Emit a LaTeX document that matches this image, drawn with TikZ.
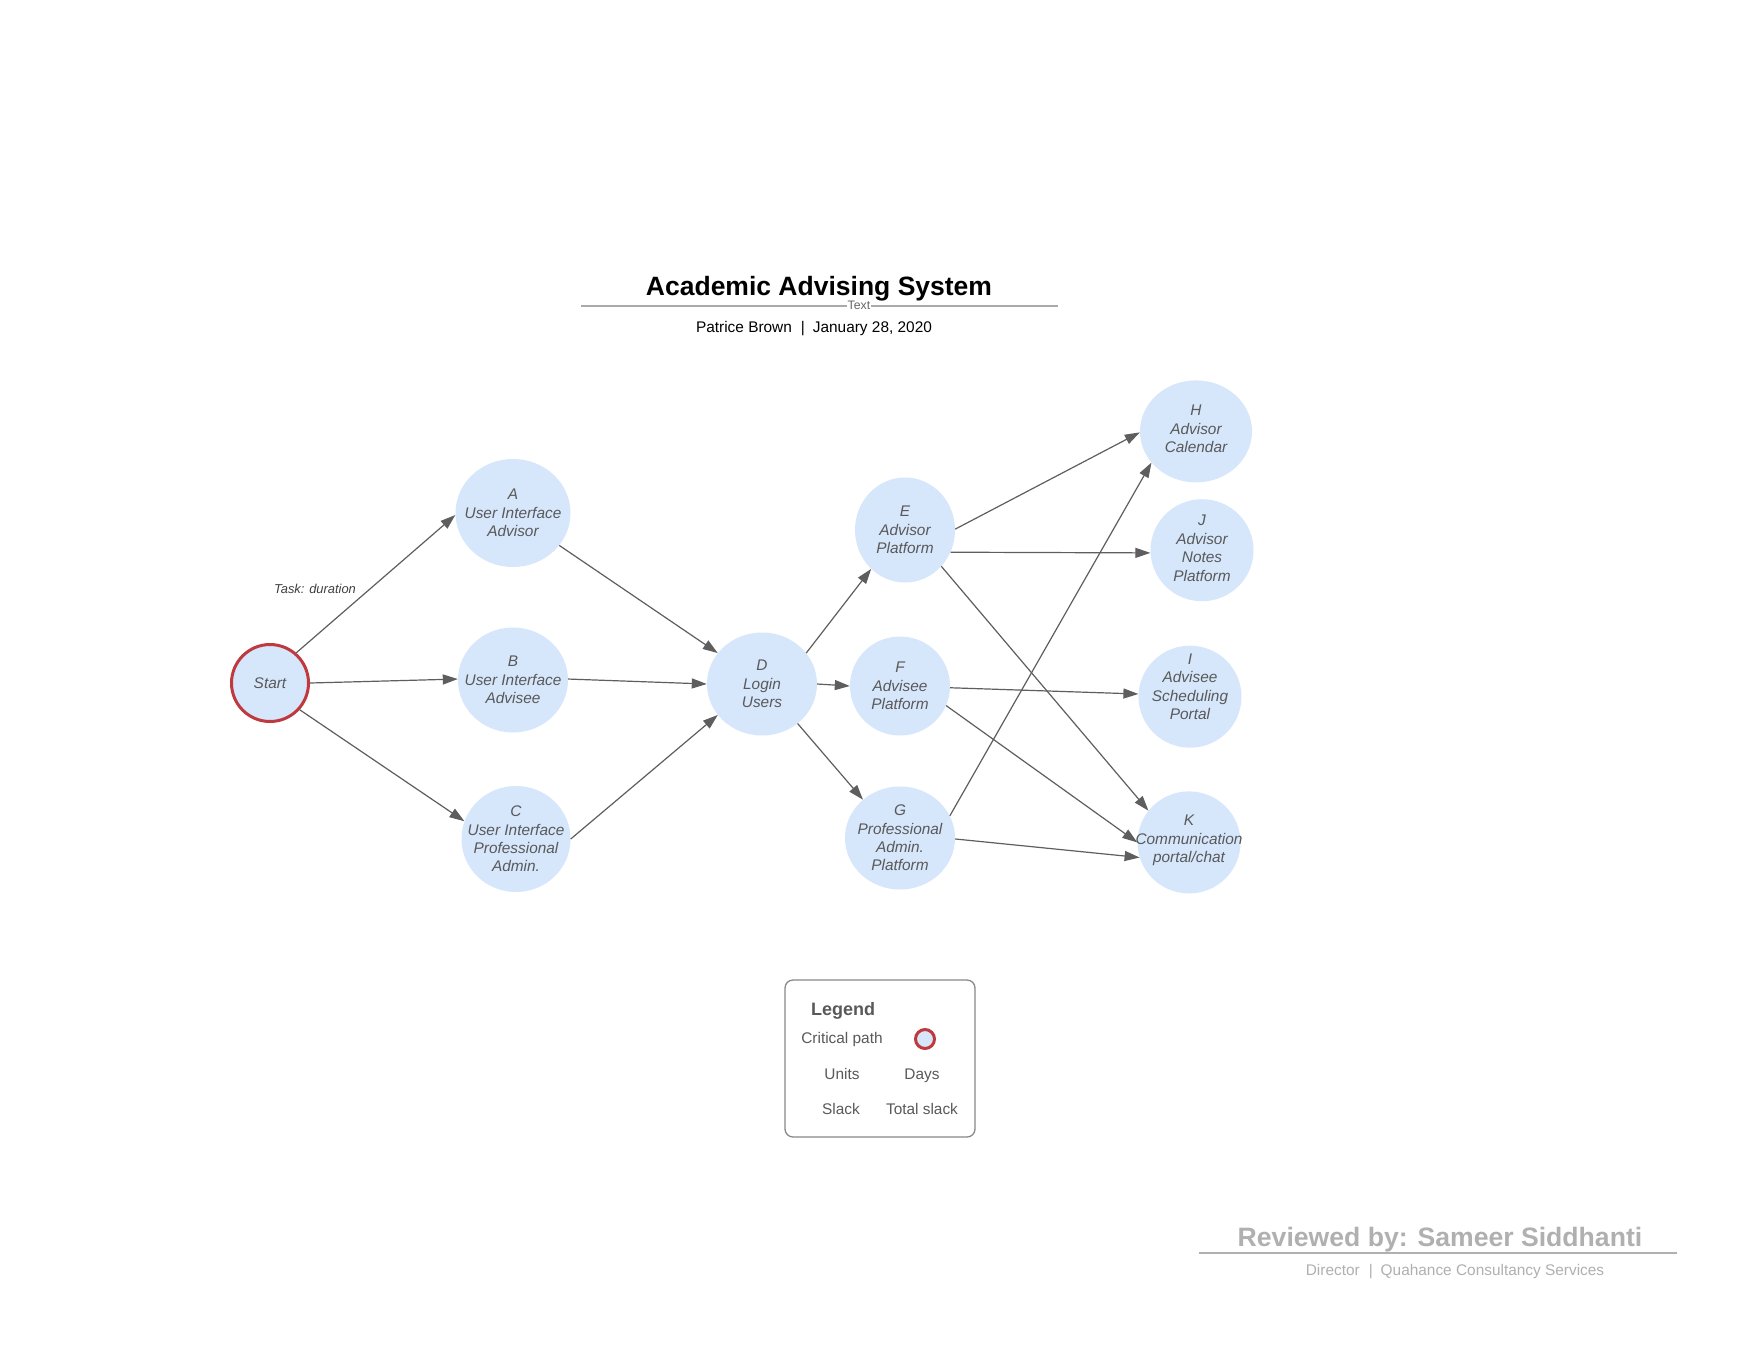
\documentclass[tikz,border=0pt]{standalone}
\usepackage{fontspec}
\setmainfont{Liberation Sans}
\usetikzlibrary{shapes.geometric,arrows.meta}
\definecolor{nodefill}{HTML}{D6E6FB}
\definecolor{txtgray}{HTML}{595959}
\definecolor{edgegray}{HTML}{5E5E5E}
\definecolor{critred}{HTML}{BF3A3E}
\definecolor{rulegray}{HTML}{AAAAAA}
\definecolor{revgray}{HTML}{B0B0B0}
\definecolor{boxgray}{HTML}{888888}
\tikzset{
  task/.style={ellipse, fill=nodefill, draw=none, inner sep=0pt},
  tasktext/.style={font=\fontsize{15.4}{18.4}\selectfont\itshape, text=txtgray, align=center, inner sep=0pt},
  conn/.style={draw=edgegray, line width=1.2pt, -{Triangle[length=15pt,width=10pt]}},
  legtext/.style={font=\fontsize{15.4}{18}\selectfont, text=txtgray, anchor=base, inner sep=0pt},
}
\begin{document}
\begin{tikzpicture}[x=1pt,y=-1pt]
\useasboundingbox[fill=white] (0,0) rectangle (1760,1360);

% title block
\node[anchor=base, font=\fontsize{26.5}{30}\selectfont\bfseries, inner sep=0pt] (title) at (819,295) {Academic Advising System};
\coordinate (tl) at (581,305.7);
\coordinate (tr) at (1058,305.7);
\draw[rulegray, line width=2pt] (tl) -- (tr);
\node[fill=white, inner sep=1pt, font=\fontsize{12.3}{14}\selectfont, text=black!60] (textlbl) at (859,305) {Text};
\node[anchor=base, font=\fontsize{15.4}{18}\selectfont, inner sep=0pt] (subtitle) at (814,332.7) {Patrice Brown\hspace{9pt}|\hspace{8pt}January 28, 2020};

% nodes
\node[task, draw=critred, line width=3pt, minimum width=77pt, minimum height=77pt] (S) at (270,683) {};
\node[tasktext] (St) at (S) {Start};
\node[task, minimum width=115pt, minimum height=108pt] (A) at (513,513) {};
\node[tasktext] (At) at (A) {A\\User Interface\\Advisor};
\node[task, minimum width=110pt, minimum height=105pt] (B) at (513,680) {};
\node[tasktext] (Bt) at (B) {B\\User Interface\\Advisee};
\node[task, minimum width=109pt, minimum height=106pt] (C) at (516,839) {};
\node[tasktext] (Ct) at (C) {C\\User Interface\\Professional\\Admin.};
\node[task, minimum width=110pt, minimum height=103pt] (D) at (762,684) {};
\node[tasktext] (Dt) at (D) {D\\Login\\Users};
\node[task, minimum width=100pt, minimum height=105pt] (E) at (905,530) {};
\node[tasktext] (Et) at (E) {E\\Advisor\\Platform};
\node[task, minimum width=100pt, minimum height=99pt] (F) at (900,686) {};
\node[tasktext] (Ft) at (F) {F\\Advisee\\Platform};
\node[task, minimum width=110pt, minimum height=103pt] (G) at (900,838) {};
\node[tasktext] (Gt) at (G) {G\\Professional\\Admin.\\Platform};
\node[task, minimum width=112pt, minimum height=102pt] (H) at (1196,431.4) {};
\node[tasktext] (Ht) at ([yshift=2.5pt]H.center) {H\\Advisor\\Calendar};
\node[task, minimum width=103pt, minimum height=102pt] (J) at (1202,550.2) {};
\node[tasktext] (Jt) at ([yshift=2pt]J.center) {J\\Advisor\\Notes\\Platform};
\node[task, minimum width=103pt, minimum height=102pt] (I) at (1190,696.7) {};
\node[tasktext] (It) at ([yshift=10pt]I.center) {I\\Advisee\\Scheduling\\Portal};
\node[task, minimum width=103pt, minimum height=102pt] (K) at (1189,842.4) {};
\node[tasktext] (Kt) at ([yshift=2pt]K.center) {K\\Communication\\portal/chat};

% task label
\node[font=\fontsize{12.9}{15}\selectfont\itshape, text=black!75, inner sep=0pt] (task) at (315,589) {Task: duration};

% connectors
\draw[conn] (S.49) -- (A.182);
\draw[conn] (S.0) -- (B.179);
\draw[conn] (S.-42) -- (C.161);
\draw[conn] (A.-35) -- (D.145);
\draw[conn] (B.1) -- (D.180);
\draw[conn] (C.0) -- (D.215);
\draw[conn] (D.35) -- (E.229);
\draw[conn] (D.0) -- (F.180);
\draw[conn] (D.-48) -- (G.134);
\draw[conn] (E.1) -- (H.181);
\draw[conn] (E.-26) -- (J.183);
\draw[conn] (E.-45) -- (K.142);
\draw[conn] (F.-2) -- (I.177);
\draw[conn] (F.-23) -- (K.180);
\draw[conn] (G.24) -- (H.215);
\draw[conn] (G.-1) -- (K.197);

% legend
\draw[boxgray, line width=1.3pt, rounded corners=8pt] (785,980) rectangle (975,1137);
\node[legtext, font=\fontsize{18}{20}\selectfont\bfseries] (leg) at (843,1015) {Legend};
\node[legtext] (cp) at (842,1043.3) {Critical path};
\node[circle, fill=nodefill, draw=critred, line width=3pt, minimum size=19pt, inner sep=0pt] (cpc) at (925,1039) {};
\node[legtext] (un) at (842,1079) {Units};
\node[legtext] (dy) at (922,1079) {Days};
\node[legtext] (sl) at (841,1114.3) {Slack};
\node[legtext] (ts) at (922,1114.3) {Total slack};

% reviewed block
\node[anchor=base, font=\fontsize{26.6}{30}\selectfont\bfseries, text=revgray, inner sep=0pt] (rev) at (1440,1246) {Reviewed by: Sameer Siddhanti};
\coordinate (rl) at (1199,1253);
\coordinate (rr) at (1677,1253);
\draw[revgray, line width=1.3pt] (rl) -- (rr);
\node[anchor=base, font=\fontsize{15.4}{18}\selectfont, text=revgray, inner sep=0pt] (dir) at (1455,1275.7) {Director\hspace{9pt}|\hspace{8pt}Quahance Consultancy Services};
\end{tikzpicture}
\end{document}
